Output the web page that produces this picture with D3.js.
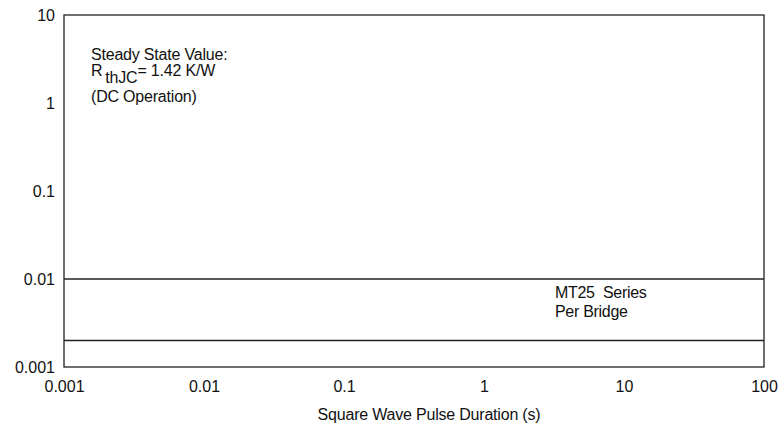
<!DOCTYPE html>
<html lang="en">
<head>
<meta charset="UTF-8">
<title>Transient Thermal Impedance</title>
<style>
  body { margin: 0; background: #fff; }
  text { font-family: "Liberation Sans", Arial, sans-serif; fill: #111; }
</style>
</head>
<body>
<script src="https://d3js.org/d3.v7.min.js"></script>
<div id="chart"></div>
<script>
// ticks on each log axis
var xTicks = [0.001, 0.01, 0.1, 1, 10, 100];
var yTicks = [0.001, 0.01, 0.1, 1, 10];
var xTickLabels = ["0.001", "0.01", "0.1", "1", "10", "100"];
var yTickLabels = ["0.001", "0.01", "0.1", "1", "10"];

// horizontal curves (flat lines) across the whole range
var lineX = [0.001, 100];
var lineA = [0.01, 0.01];
var lineB = [0.002, 0.002];

var margin = { top: 15, right: 19, bottom: 65, left: 64 },
    width = 783 - margin.left - margin.right,
    height = 432 - margin.top - margin.bottom;

var svg = d3.select("#chart")
    .append("svg")
    .attr("width", 783)
    .attr("height", 432)
    .append("g")
    .attr("transform", "translate(" + margin.left + "," + margin.top + ")");

var x = d3.scaleLog().domain([0.001, 100]).range([0, width]);
var y = d3.scaleLog().domain([0.001, 10]).range([height, 0]);

// x axis labels
var xAxis = svg.append("g")
    .attr("transform", "translate(0," + height + ")")
    .call(d3.axisBottom(x).tickValues(xTicks).tickSize(0).tickPadding(14)
        .tickFormat(function(d, i) { return xTickLabels[i]; }));
xAxis.select(".domain").remove();
xAxis.selectAll("text").style("font-size", "16px").style("font-family", "Liberation Sans, Arial, sans-serif").attr("fill", "#111");

// y axis labels
var yAxis = svg.append("g")
    .call(d3.axisLeft(y).tickValues(yTicks).tickSize(0).tickPadding(9)
        .tickFormat(function(d, i) { return yTickLabels[i]; }));
yAxis.select(".domain").remove();
yAxis.selectAll("text").style("font-size", "16px").style("font-family", "Liberation Sans, Arial, sans-serif").attr("fill", "#111");

// frame
svg.append("rect")
    .attr("x", 0).attr("y", 0)
    .attr("width", width).attr("height", height)
    .attr("fill", "none")
    .attr("stroke", "#222")
    .attr("stroke-width", 1.3);

var line = d3.line()
    .x(function(d) { return x(d[0]); })
    .y(function(d) { return y(d[1]); });

[lineA, lineB].forEach(function(s) {
    svg.append("path")
        .datum(lineX.map(function(v, i) { return [v, s[i]]; }))
        .attr("d", line)
        .attr("fill", "none")
        .attr("stroke", "#222")
        .attr("stroke-width", 1.3);
});

// annotation top-left
var note = svg.append("g").style("font-size", "16px").style("letter-spacing", "-0.2px");
note.append("text").attr("x", 27).attr("y", 45).text("Steady State Value:");
var r = note.append("text").attr("x", 27).attr("y", 61);
r.append("tspan").text("R");
r.append("tspan").attr("dx", 3).attr("dy", 7).text("thJC");
r.append("tspan").attr("dy", -7).text("= 1.42 K/W");
note.append("text").attr("x", 27).attr("y", 87).text("(DC Operation)");

// series note
var note2 = svg.append("g").style("font-size", "16px").style("letter-spacing", "-0.3px");
note2.append("text").attr("x", 491).attr("y", 283).style("white-space", "pre").text("MT25  Series");
note2.append("text").attr("x", 491).attr("y", 302).text("Per Bridge");

// x axis title
svg.append("text")
    .attr("x", 365)
    .attr("y", 405)
    .attr("text-anchor", "middle")
    .style("font-size", "16px")
    .style("letter-spacing", "-0.2px")
    .text("Square Wave Pulse Duration (s)");
</script>
</body>
</html>
